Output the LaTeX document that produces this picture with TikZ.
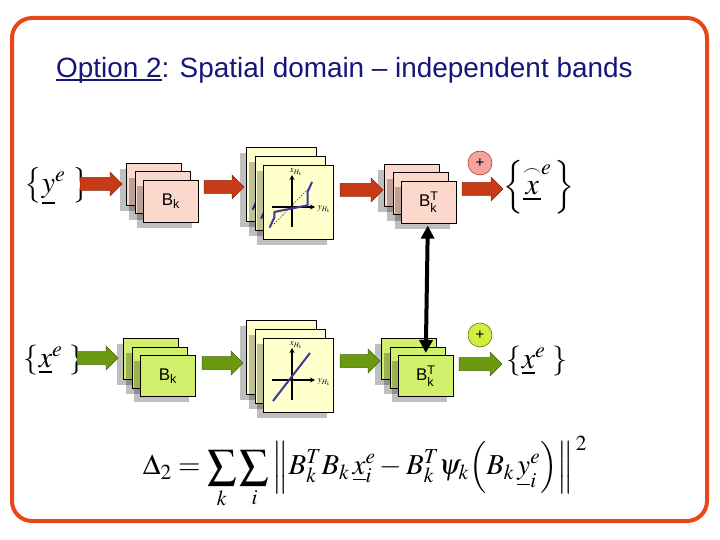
\documentclass[tikz,border=0pt]{standalone}
\usepackage{amsmath}
\usepackage{mathptmx}
\usepackage[no-math]{fontspec}
\setsansfont{Liberation Sans}
\usetikzlibrary{shadows,calc,arrows.meta}
\definecolor{framec}{HTML}{E8461A}
\definecolor{navy}{HTML}{16167A}
\definecolor{pinkc}{HTML}{FBD7CC}
\definecolor{yellc}{HTML}{FFFFCC}
\definecolor{greenc}{HTML}{D0F06C}
\definecolor{redc}{HTML}{C73B17}
\definecolor{redd}{HTML}{8A2A0E}
\definecolor{grnc}{HTML}{6B9A10}
\definecolor{grnd}{HTML}{47690A}
\definecolor{curvec}{HTML}{3A3A99}
\definecolor{plusp}{HTML}{F5A5A0}
\definecolor{pluspd}{HTML}{B83A2A}
\definecolor{plusg}{HTML}{D4EE40}
\definecolor{plusgd}{HTML}{5A7A10}
\tikzset{
  shadowed/.style={general shadow={fill=black, opacity=.25, shadow xshift=-6bp, shadow yshift=-6bp}},
  boxbase/.style={draw=black, line width=0.6bp, inner sep=0pt, shadowed,
    font=\sffamily\fontsize{17}{20}\selectfont},
  pbox/.style={boxbase, fill=pinkc, minimum width=55bp, minimum height=42bp},
  gbox/.style={boxbase, fill=greenc, minimum width=55bp, minimum height=41bp},
  ybox/.style={boxbase, fill=yellc, minimum width=70bp, minimum height=74bp},
  redarrow/.style={fill=redc, draw=redd, line width=0.5bp},
  grnarrow/.style={fill=grnc, draw=grnd, line width=0.5bp},
  axis/.style={line width=1.6bp, -{Stealth[length=5bp,width=5bp]}},
  axlabel/.style={inner sep=0pt, font=\fontsize{9}{9}\selectfont},
  plusnode/.style={circle, minimum size=24bp, inner sep=0pt, line width=0.6bp,
    font=\sffamily\fontsize{15}{15}\selectfont},
  mathbig/.style={inner sep=0pt, font=\fontsize{30}{36}\selectfont},
}
\newcommand\blockarrow[3]{%
  \filldraw[#1] let \p1=(#2), \p2=(#3) in
    (\x1,\y1+6.5bp) -- (\x2-12bp,\y1+6.5bp) -- (\x2-12bp,\y1+12bp) -- (\x2,\y1)
    -- (\x2-12bp,\y1-12bp) -- (\x2-12bp,\y1-6.5bp) -- (\x1,\y1-6.5bp) -- cycle;}
\newcommand\thrcurve{%
  \draw[line width=0.4bp, dash pattern=on 1.5bp off 1.5bp] (11,59) -- (47,22);
  \draw[curvec, line width=2bp, line join=round] (6.6,62.6) -- (11.3,52.6) -- (11.3,47)
    -- (44.6,40.3) -- (44.6,27) -- (49,17);}
\newcommand\lincurve{%
  \draw[curvec, line width=2bp] (10,63) -- (47,15);}
% plot box without labels (hidden copies behind)
\newcommand\nlback[4]{%
  \node[ybox, anchor=north west] (#1) at (#2,#3) {};
  \begin{scope}[shift={(#1.north west)}]
    \draw[axis] (29,62) -- (29,10);
    \draw[axis] (9,42) -- (52,42);
    #4
  \end{scope}}
% front plot box with axis labels
\newcommand\nlbox[4]{%
  \nlback{#1}{#2}{#3}{#4}
  \begin{scope}[shift={(#1.north west)}]
    \node[axlabel] (#1-x) at (33,7) {$x_{H_k}$};
    \node[axlabel] (#1-y) at (61,44) {$y_{H_k}$};
  \end{scope}}
\begin{document}
\begin{tikzpicture}[x=1bp,y=-1bp]
\useasboundingbox (0,0) rectangle (720,540);
\fill[white] (0,0) rectangle (720,540);
\draw[framec, line width=4bp, rounded corners=20bp] (12,18) rectangle (707,521);
\node[anchor=base west, inner sep=0pt, text=navy, font=\sffamily\fontsize{28}{34}\selectfont]
  (title) at (56,78) {\setbox0\hbox{Option 2}\rlap{\rule[-3bp]{\wd0}{1.6bp}}\box0: Spatial domain – independent bands};

% ---------- top row ----------
\node[mathbig] (ye) at (57,186) {$\left\{\underline{y}^{e}\;\right\}$};
\node[pbox, anchor=north west] (bkTa) at (126,163) {};
\node[pbox, anchor=north west] (bkTb) at (134.5,171.5) {};
\node[pbox, anchor=north west] (bkTc) at (143,180) {B\textsubscript{k}};
\nlback{nlTa}{246}{147}{\thrcurve}
\nlback{nlTb}{254.5}{156}{\thrcurve}
\nlbox{nlTc}{263}{165}{\thrcurve}
\node[pbox, anchor=north west] (btTa) at (384,164) {};
\node[pbox, anchor=north west] (btTb) at (392.5,172.5) {};
\node[pbox, anchor=north west] (btTc) at (401,181) {B$^{\textsf{T}}_{\textsf{k}}$};
\node[plusnode, fill=plusp, draw=pluspd] (plT) at (480,163) {+};
\node[mathbig] (xhT) at (539,187) {$\left\{\underline{\overset{\scriptscriptstyle\frown}{x}}^{e}\,\right\}$};

% ---------- bottom row ----------
\node[mathbig] (xB) at (54,360) {$\left\{\underline{x}^{e}\;\right\}$};
\node[gbox, anchor=north west] (bkBa) at (123,338) {};
\node[gbox, anchor=north west] (bkBb) at (131.5,346.5) {};
\node[gbox, anchor=north west] (bkBc) at (140,355) {B\textsubscript{k}};
\nlback{nlBa}{246}{320}{\lincurve}
\nlback{nlBb}{254.5}{329}{\lincurve}
\nlbox{nlBc}{263}{338}{\lincurve}
\node[gbox, anchor=north west] (btBa) at (381,338) {};
\node[gbox, anchor=north west] (btBb) at (389.5,346.5) {};
\node[gbox, anchor=north west] (btBc) at (398,355) {B$^{\textsf{T}}_{\textsf{k}}$};
\node[plusnode, fill=plusg, draw=plusgd] (plB) at (480,335) {+};
\node[mathbig] (xoB) at (537,361) {$\left\{\underline{x}^{e}\;\right\}$};

% ---------- block arrows ----------
\coordinate (r1s) at (80,184);
\coordinate (r2s) at (204,187);
\coordinate (r3s) at (340,190);
\coordinate (r4s) at (462,189);
\coordinate (r4e) at (503,189);
\coordinate (g1s) at (77,358);
\coordinate (g2s) at (202,363);
\coordinate (g3s) at (340,361);
\coordinate (g4s) at (459,364);
\coordinate (g4e) at (502,364);
\blockarrow{redarrow}{r1s}{$(bkTa.west)+(-4,0)$}
\blockarrow{redarrow}{r2s}{$(nlTa.west)+(-2,0)$}
\blockarrow{redarrow}{r3s}{$(btTa.west)+(-1,0)$}
\blockarrow{redarrow}{r4s}{r4e}
\blockarrow{grnarrow}{g1s}{$(bkBa.west)+(-5,0)$}
\blockarrow{grnarrow}{g2s}{$(nlBa.west)+(-3,0)$}
\blockarrow{grnarrow}{g3s}{$(btBa.west)+(-1,0)$}
\blockarrow{grnarrow}{g4s}{g4e}

% ---------- coupling arrow ----------
\draw[line width=4bp, {Triangle[length=13bp,width=13bp]}-{Triangle[length=13bp,width=13bp]}]
  ($(btTc.south)+(-1,2)$) -- ($(btBc.north)+(0,-2)$);

% ---------- formula ----------
\node[mathbig, font=\fontsize{29}{35}\selectfont] (delta) at (365,472)
  {$\displaystyle \Delta_2 = \sum_k \sum_i \left\| B_k^T B_k\, \underline{x}_i^e - B_k^T \psi_k \Bigl(B_k\, \underline{y}_i^e\Bigr)\right\|^{\,2}$};
\end{tikzpicture}
\end{document}
